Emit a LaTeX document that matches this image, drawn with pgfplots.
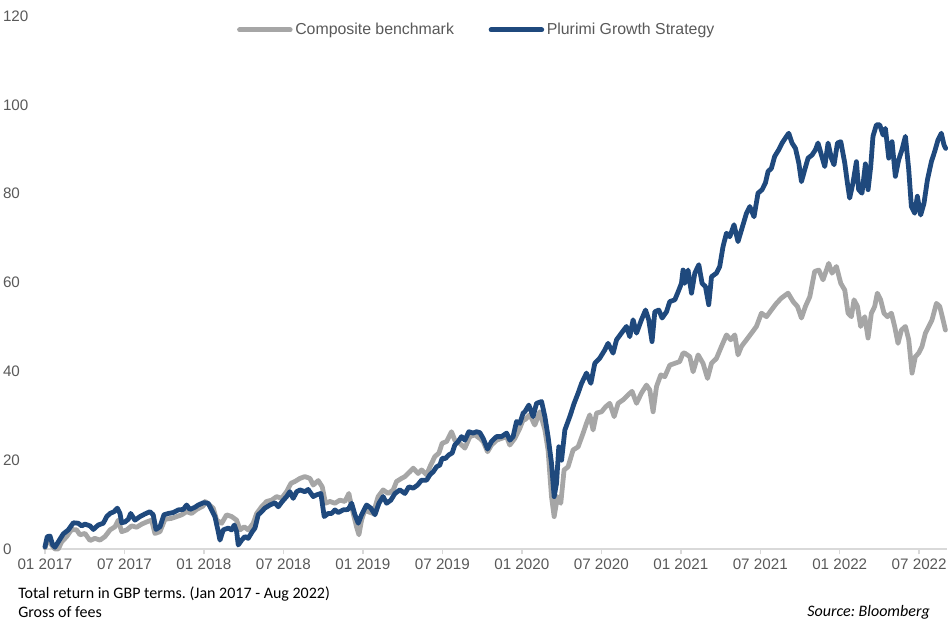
\documentclass[border=0pt]{standalone}
\usepackage{pgfplots}
\pgfplotsset{compat=1.18}
\usepackage{fontspec}
\setmainfont{Liberation Sans}
\newfontfamily\calibri{Carlito}
\frenchspacing
\definecolor{bench}{RGB}{166,166,166}
\definecolor{plurimi}{RGB}{31,73,125}
\definecolor{txt}{RGB}{89,89,89}
\definecolor{axl}{RGB}{217,217,217}
\begin{document}
\begin{tikzpicture}
\begin{axis}[
  at={(0pt,0pt)}, anchor=south west,
  width=676.5pt, height=399.75pt, scale only axis,
  xmin=0, xmax=68.1, ymin=0, ymax=120,
  clip=false,
  axis x line*=bottom, axis y line*=left,
  x axis line style={draw=axl, line width=1.1pt},
  y axis line style={draw=none},
  xtick={0,6,...,66},
  xticklabels={01 2017,07 2017,01 2018,07 2018,01 2019,07 2019,01 2020,07 2020,01 2021,07 2021,01 2022,07 2022},
  xtick style={draw=axl, line width=1.1pt},
  tick align=outside, major tick length=4pt,
  ytick={0,20,...,120}, ytick style={draw=none},
  tick label style={font=\fontsize{11.4}{13}\selectfont, text=txt},
  /pgf/number format/assume math mode=true,
  yticklabel style={anchor=west, xshift=-31pt},
  legend style={at={(0.479,0.974)}, anchor=center, draw=none, fill=none,
    legend columns=2, font=\fontsize{11.9}{13}\selectfont, text=txt,
    /tikz/every even column/.append style={column sep=24pt}},
  legend image code/.code={\draw[#1] (0pt,0pt) -- (38pt,0pt);},
]
\addplot[bench, line width=3.6pt, line cap=round, line join=round] coordinates {
(0,0.3) (0.25,2.4) (0.50,0.9) (0.75,0.0) (1.00,0.0) (1.26,1.6) (1.64,2.8) (2.01,4.4) (2.39,4.3) (2.64,3.2)
(3.02,3.5) (3.40,1.9) (3.77,2.4) (4.15,2.0) (4.53,2.8) (4.91,4.3) (5.28,5.0) (5.53,6.5) (5.79,3.9) (6.17,4.3)
(6.54,5.2) (6.92,4.9) (7.30,5.6) (7.68,6.1) (8.05,6.5) (8.30,3.5) (8.68,3.9) (9.06,6.7) (9.56,6.9) (9.94,7.3)
(10.32,7.7) (10.69,8.4) (11.07,8.0) (11.45,8.9) (11.95,9.7)
(12.08,10.7) (12.70,9.2) (12.96,6.5) (13.34,5.8) (13.71,7.7) (14.09,7.3) (14.47,6.5) (14.72,4.3) (15.04,5.0)
(15.34,4.3) (15.72,5.8) (15.98,8.0) (16.35,9.5) (16.73,10.7) (17.11,11.0) (17.49,11.8) (17.86,11.4) (18.24,12.9)
(18.57,14.8) (18.87,15.2) (19.25,15.9) (19.62,16.3) (20.00,15.9) (20.25,14.4) (20.63,15.4) (20.93,14.0) (21.18,10.3)
(21.51,10.7) (21.89,10.3) (22.26,11.0) (22.64,10.7) (22.94,12.5) (23.15,9.5) (23.52,5.0) (23.70,3.2) (23.90,6.5) (24.15,8.8)
(24.40,8.4) (24.78,8.0) (25.15,11.8) (25.53,13.3) (25.91,12.5) (26.29,13.3) (26.54,15.2) (26.92,15.9) (27.17,16.3)
(27.55,17.4) (27.80,18.2) (28.17,17.0) (28.43,17.8) (28.81,16.7) (29.06,18.5) (29.43,20.8) (29.74,21.6) (29.98,23.8)
(30.32,24.2) (30.69,26.4) (30.94,24.5) (31.32,23.8) (31.70,22.7) (32.08,25.3) (32.45,25.7) (32.83,24.9) (33.08,24.2)
(33.41,21.9) (33.71,23.4) (34.09,24.5) (34.47,24.9) (34.85,25.3) (35.09,23.4) (35.47,24.9) (35.85,27.2) (36.10,29.1)
(36.23,29.1) (36.60,30.2) (36.98,27.9) (37.36,30.9) (37.74,26.8) (37.98,22.3) (38.24,11.8) (38.44,7.3) (38.69,11.8)
(38.94,10.3) (39.19,17.8) (39.49,18.5) (39.87,22.3) (40.25,23.0) (40.63,26.1) (40.88,28.3) (41.13,30.2) (41.38,26.8)
(41.64,30.6) (42.02,30.9) (42.32,32.0) (42.64,32.8) (42.97,29.8) (43.27,32.8) (43.65,33.6) (44.02,34.7) (44.32,35.5)
(44.66,32.8) (45.03,35.1) (45.41,36.9) (45.66,35.8) (45.91,30.9) (46.17,36.6) (46.49,39.2) (46.79,38.8) (47.17,41.4)
(47.55,41.8) (47.92,42.2) (48.17,44.1)
(48.30,44.1) (48.68,43.3) (48.93,39.9) (49.31,43.7) (49.68,41.8) (50.02,38.4) (50.32,41.8) (50.69,42.9) (51.07,45.6)
(51.45,48.2) (51.77,47.1) (52.08,48.2) (52.32,43.7) (52.58,45.6) (52.96,47.1) (53.34,48.6) (53.71,50.1) (54.09,53.1)
(54.47,52.3) (54.84,53.8) (55.22,55.3) (55.60,56.5) (56.10,57.6) (56.48,55.7) (56.81,54.6) (57.11,52.0) (57.41,54.6)
(57.74,56.8) (58.11,62.5) (58.42,62.8) (58.74,60.6) (59.17,64.3) (59.42,62.1) (59.75,63.6) (60.08,59.8)
(60.38,58.3) (60.63,53.1) (60.88,52.3) (61.08,56.1) (61.34,54.6) (61.58,50.1) (61.89,52.3) (62.14,47.5) (62.39,53.1)
(62.64,54.6) (62.84,57.6) (63.09,56.1) (63.34,53.1) (63.60,52.3) (63.90,53.1) (64.15,50.1) (64.40,46.3) (64.66,49.3)
(64.96,50.1) (65.21,47.1) (65.46,39.6) (65.71,43.3) (65.96,44.1) (66.21,45.6) (66.47,48.6) (66.72,50.1) (66.97,51.6)
(67.30,55.3) (67.55,54.6) (67.80,51.6) (67.98,49.3)
};
\addlegendentry{Composite benchmark}
\addplot[plurimi, line width=3.6pt, line cap=round, line join=round] coordinates {
(0,0.5) (0.17,2.8) (0.38,2.9) (0.58,0.9) (0.75,0.4) (1.00,1.6) (1.38,3.4) (1.76,4.3) (2.14,5.9) (2.51,5.8)
(2.77,5.2) (3.02,5.6) (3.40,5.2) (3.65,4.4) (4.02,5.4) (4.40,5.8) (4.66,7.3) (4.91,8.0) (5.21,8.4) (5.46,9.2)
(5.66,8.0) (5.79,5.9) (6.04,6.1) (6.29,6.7) (6.47,8.0) (6.79,6.5) (7.17,7.3) (7.55,7.9) (7.92,8.4) (8.17,7.7)
(8.38,4.4) (8.68,5.0) (8.98,7.7) (9.31,8.0) (9.68,8.2) (10.06,8.8) (10.44,8.9) (10.69,9.9) (10.94,8.9) (11.32,9.4)
(11.57,9.9) (11.95,10.4)
(12.08,10.4) (12.32,10.3) (12.58,8.8) (12.83,7.3) (13.08,3.9) (13.21,2.0) (13.46,4.3) (13.83,4.7) (14.09,4.3)
(14.29,5.4) (14.47,3.9) (14.59,0.9) (14.85,2.0) (15.09,2.8) (15.34,2.4) (15.65,3.9) (15.85,4.7) (16.10,7.7)
(16.35,8.4) (16.60,9.2) (16.98,9.9) (17.36,10.4) (17.61,9.5) (17.91,10.7) (18.24,11.8) (18.49,12.9) (18.74,11.4)
(19.00,12.9) (19.25,13.3) (19.62,12.9) (19.87,13.4) (20.25,11.8) (20.51,12.2) (20.83,12.5) (21.08,7.3) (21.38,8.0)
(21.64,8.0) (21.89,8.8) (22.14,8.2) (22.51,8.8) (22.89,8.9) (23.15,10.3) (23.40,7.7) (23.65,5.8) (23.90,7.7) (24.15,9.2)
(24.28,9.9) (24.60,9.2) (24.91,7.7) (25.21,10.3) (25.53,11.8) (25.79,10.3) (26.11,11.0) (26.42,12.5) (26.79,13.3)
(27.17,12.5) (27.47,14.0) (27.80,13.7) (28.13,14.4) (28.43,15.5) (28.81,15.5) (29.06,16.7) (29.31,17.4) (29.56,18.5)
(29.81,18.9) (29.98,20.4) (30.24,20.4) (30.49,21.2) (30.74,21.6) (30.94,23.4) (31.19,24.2) (31.45,25.3) (31.70,24.5)
(32.00,26.4) (32.32,26.1) (32.58,26.4) (32.83,26.2) (33.08,24.9) (33.41,22.5) (33.71,24.2) (34.09,25.3) (34.47,25.3)
(34.85,26.1) (35.09,24.5) (35.34,25.3) (35.60,28.7) (35.85,28.3) (36.10,30.6)
(36.23,30.9) (36.53,32.4) (36.85,29.8) (37.11,32.8) (37.49,33.2) (37.74,29.8) (37.98,25.3) (38.24,19.3) (38.44,11.8)
(38.62,14.8) (38.79,23.0) (39.00,20.0) (39.25,26.8) (39.62,29.8) (39.95,32.8) (40.25,35.1) (40.51,37.3) (40.88,39.6)
(41.21,37.3) (41.51,41.8) (41.89,43.0) (42.26,44.8) (42.51,46.3) (42.89,44.1) (43.15,47.1) (43.52,48.6) (43.90,50.1)
(44.15,47.8) (44.40,51.6) (44.66,48.6) (45.03,51.6) (45.34,53.8) (45.58,51.6) (45.83,46.7) (46.04,53.4) (46.34,53.8)
(46.59,52.0) (46.92,53.4) (47.17,55.7) (47.55,56.1) (47.80,57.9) (48.05,59.8) (48.17,62.8)
(48.30,59.8) (48.55,62.8) (48.81,57.6) (49.06,62.1) (49.36,64.0) (49.61,59.8) (49.86,59.1) (50.11,55.0) (50.32,61.3)
(50.69,62.1) (50.94,63.6) (51.19,68.1) (51.45,71.1) (51.70,70.3) (52.02,73.0) (52.32,69.2) (52.58,71.8) (52.96,75.6)
(53.21,77.1) (53.53,74.8) (53.83,80.1) (54.14,80.9) (54.39,82.4) (54.59,85.0) (54.84,85.7) (55.09,88.4) (55.40,89.9)
(55.65,91.4) (55.98,92.9) (56.15,93.6) (56.40,91.4) (56.66,90.2) (56.91,86.9) (57.11,82.7) (57.36,85.4) (57.61,88.0)
(57.91,88.7) (58.17,89.9) (58.36,91.4) (58.62,88.7) (58.87,86.1) (59.12,91.4) (59.37,88.0) (59.57,86.5) (59.83,91.4)
(60.08,91.7)
(60.38,86.9) (60.58,82.4) (60.75,79.0) (61.00,82.4) (61.26,87.2) (61.43,80.9) (61.68,80.1) (61.94,86.7) (62.14,80.9)
(62.34,86.1) (62.51,92.9) (62.77,95.5) (63.02,95.5) (63.27,93.2) (63.45,94.7) (63.70,88.0) (63.95,91.7) (64.20,83.9)
(64.45,87.6) (64.70,89.9) (64.96,92.9) (65.21,85.4) (65.41,77.1) (65.66,75.6) (65.86,79.4) (66.11,75.2) (66.36,77.8)
(66.62,83.1) (66.92,87.2) (67.17,89.5) (67.42,92.1) (67.67,93.6) (67.87,91.0) (68.00,90.2)
};
\addlegendentry{Plurimi Growth Strategy}
\end{axis}
\node[anchor=west, inner sep=0pt, font=\calibri\fontsize{12}{14}\selectfont] at (-20.25pt,-33.75pt) {Total return in GBP terms. (Jan 2017 - Aug 2022)};
\node[anchor=west, inner sep=0pt, font=\calibri\fontsize{12}{14}\selectfont] at (-20.25pt,-47.25pt) {Gross of fees};
\node[anchor=east, inner sep=0pt, font=\calibri\itshape\fontsize{12}{14}\selectfont] at (663.75pt,-47.25pt) {Source: Bloomberg};
\pgfresetboundingbox
\path (-33.75pt,-53.25pt) rectangle (677.25pt,411.75pt);
\end{tikzpicture}
\end{document}
